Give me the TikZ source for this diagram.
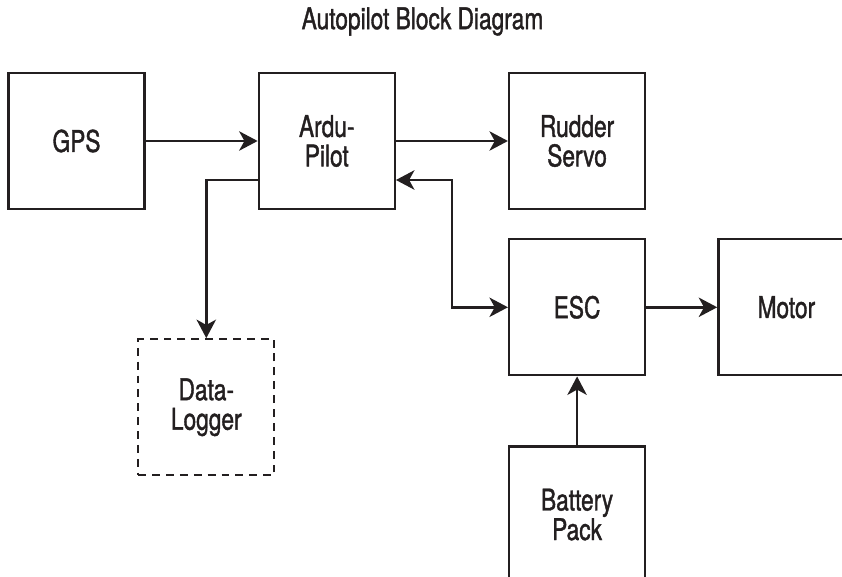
\documentclass[tikz,border=0pt]{standalone}
\usepackage{fontspec}
\setmainfont{TeX Gyre Heros}[FakeStretch=0.76, FakeBold=1.3]
\usepackage{xcolor}
\usetikzlibrary{arrows.meta,positioning}
\definecolor{ink}{HTML}{231F20}

\begin{document}
\begin{tikzpicture}[
    font=\fontsize{17}{16.8}\selectfont, color=ink,
    >={Stealth[length=10.5pt, width=11pt, inset=3pt]},
    block/.style={draw, line width=1.3pt, minimum size=2.72cm, inner sep=0pt, align=center},
    dashblock/.style={block, dash pattern=on 4.5pt off 3.4pt},
    link/.style={line width=1.5pt, ->},
  ]
  \useasboundingbox (-1.53,2.82) rectangle (15.31,-8.70);

  % Title
  \node (title) at (6.92,2.39) {Autopilot Block Diagram};

  % Blocks
  \node[block] (gps) at (0,0) {GPS};
  \node[block, right=2.24cm of gps] (ardu) {Ardu-\\Pilot};
  \node[block, right=2.24cm of ardu] (rudder) {Rudder\\Servo};
  \node[block, below=0.56cm of rudder] (esc) {ESC};
  \node[block, right=1.42cm of esc] (motor) {Motor};
  \node[block, below=1.38cm of esc] (batt) {Battery\\Pack};
  \node[dashblock, below=2.56cm of ardu, xshift=-2.41cm] (dlog) {Data-\\Logger};

  % Connections
  \draw[link] (gps) -- (ardu);
  \draw[link] (ardu) -- (rudder);
  \draw[link] (esc) -- (motor);
  \draw[link] (batt) -- (esc);
  \draw[link] ([yshift=-0.78cm]ardu.west) -| (dlog.north);
  \draw[link, <->] ([yshift=-0.78cm]ardu.east) -| ([xshift=-1.12cm]esc.west) -- (esc.west);
\end{tikzpicture}
\end{document}
